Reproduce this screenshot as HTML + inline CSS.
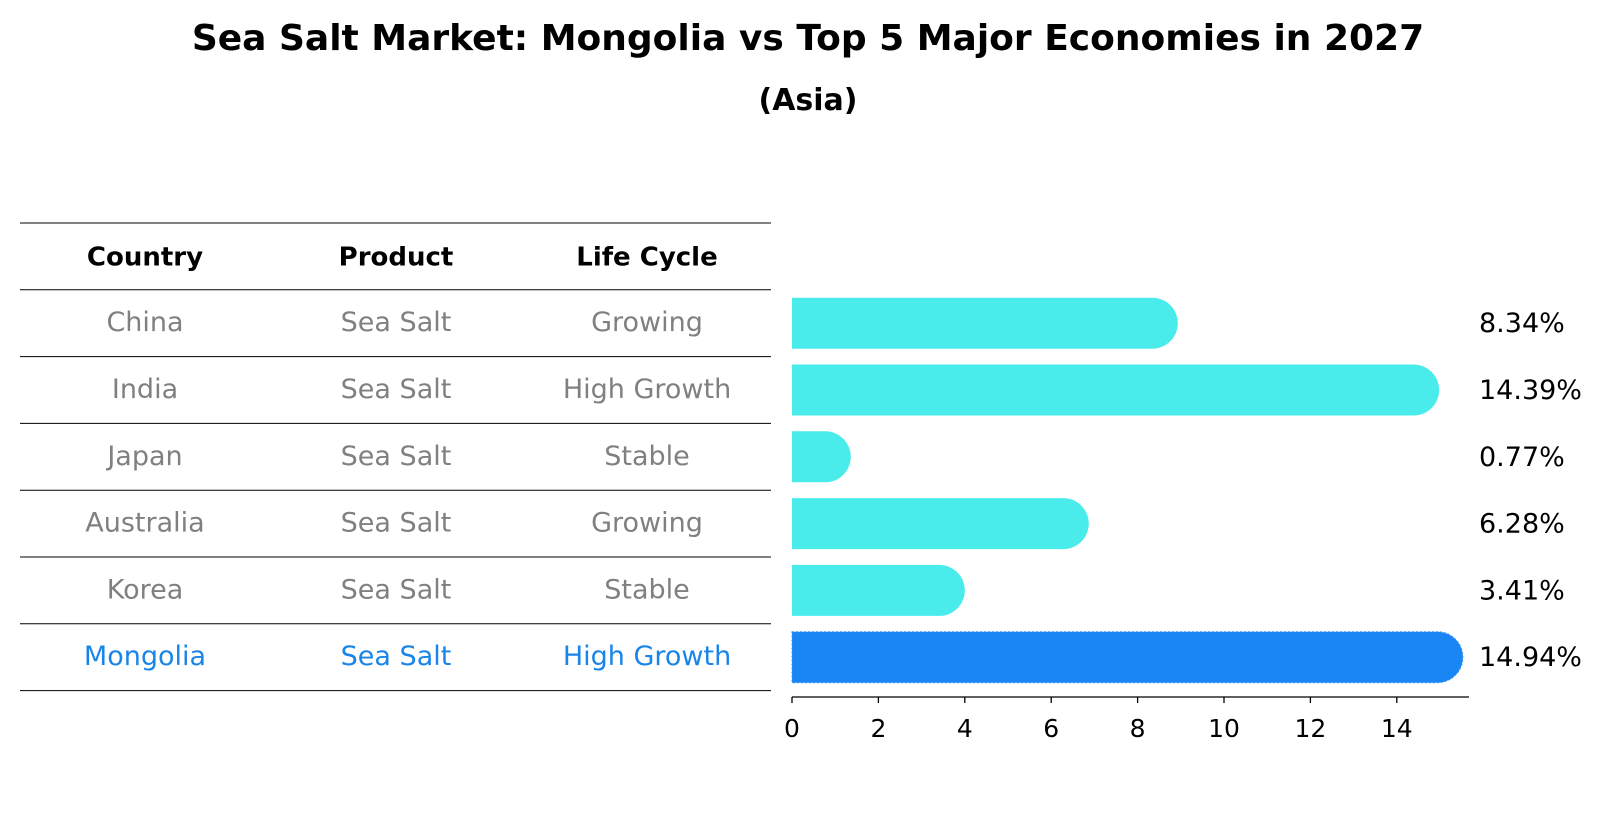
<!DOCTYPE html>
<html><head><meta charset="utf-8"><style>
html,body{margin:0;padding:0;background:#fff;}
svg{display:block;font-family:"DejaVu Sans","Liberation Sans",sans-serif;}
</style></head><body>
<svg id="chart" width="1604" height="823" viewBox="0 0 1604 823" xmlns="http://www.w3.org/2000/svg">
<text x="808" y="50" text-anchor="middle" font-size="36" font-weight="bold">Sea Salt Market: Mongolia vs Top 5 Major Economies in 2027</text>
<text x="808" y="110" text-anchor="middle" font-size="30" font-weight="bold">(Asia)</text>
<g id="table"></g>
<g id="bars"></g>
</svg>
<script>
const countries = ["China","India","Japan","Australia","Korea","Mongolia"];
const products = ["Sea Salt","Sea Salt","Sea Salt","Sea Salt","Sea Salt","Sea Salt"];
const lifeCycles = ["Growing","High Growth","Stable","Growing","Stable","High Growth"];
const values = [8.34,14.39,0.77,6.28,3.41,14.94];
const valueLabels = ["8.34%","14.39%","0.77%","6.28%","3.41%","14.94%"];
const xTicks = [0,2,4,6,8,10,12,14];

const NS="http://www.w3.org/2000/svg";
function mk(tag,attrs,parent){const e=document.createElementNS(NS,tag);for(const k in attrs)e.setAttribute(k,attrs[k]);parent.appendChild(e);return e;}
const table=document.getElementById('table');
const bars=document.getElementById('bars');
const rowH=66.8, tableTop=223, tableL=20, tableR=771;
const colX=[145,396,647];
for(let i=0;i<=values.length+1;i++){
  const y=tableTop+i*rowH;
  const l=mk('line',{x1:tableL,x2:tableR,y1:y,y2:y,stroke:'#000','stroke-width':1},table);
  
  
}
["Country","Product","Life Cycle"].forEach((h,j)=>{
  const t=mk('text',{x:colX[j],y:tableTop+rowH/2+9,'text-anchor':'middle','font-size':26,'font-weight':'bold'},table);
  t.textContent=h;
  
  
});
const x0=792, pxPerUnit=43.2;
function xs(v){return x0+v*pxPerUnit;}
function yc(i){return tableTop+rowH*(i+1.5);}
countries.forEach((c,i)=>{
  const col=i===countries.length-1?'#1a85e8':'#808080';
  [c,products[i],lifeCycles[i]].forEach((s,j)=>{
    const t=mk('text',{x:colX[j],y:yc(i)+8,'text-anchor':'middle','font-size':27,fill:col},table);
    t.textContent=s;
    
    
  });
  const h=51, r=h/2, y=yc(i)-r, xe=xs(values[i]);
  const fill=i===countries.length-1?'#1a85f5':'#4aeceb';
  const p=mk('path',{d:`M${x0},${y} H${xe} A${r},${r} 0 0 1 ${xe},${y+h} H${x0} Z`,fill:fill},bars);
  if(i===countries.length-1){p.setAttribute('stroke','#3a9af0');p.setAttribute('stroke-dasharray','2,2');}
  
  
  const lt=mk('text',{x:1479,y:yc(i)+9,'font-size':27},bars);
  lt.textContent=valueLabels[i];
  
  
});
const axY=697;
const ax=mk('line',{x1:x0,x2:1469,y1:axY,y2:axY,stroke:'#000','stroke-width':1.3},bars);


xTicks.forEach(v=>{
  const tk=mk('line',{x1:xs(v),x2:xs(v),y1:axY,y2:axY+6,stroke:'#000','stroke-width':1.3},bars);
  
  
  const tl=mk('text',{x:xs(v),y:axY+40,'text-anchor':'middle','font-size':25},bars);
  tl.textContent=v;
  
  
});
</script>
</body></html>
